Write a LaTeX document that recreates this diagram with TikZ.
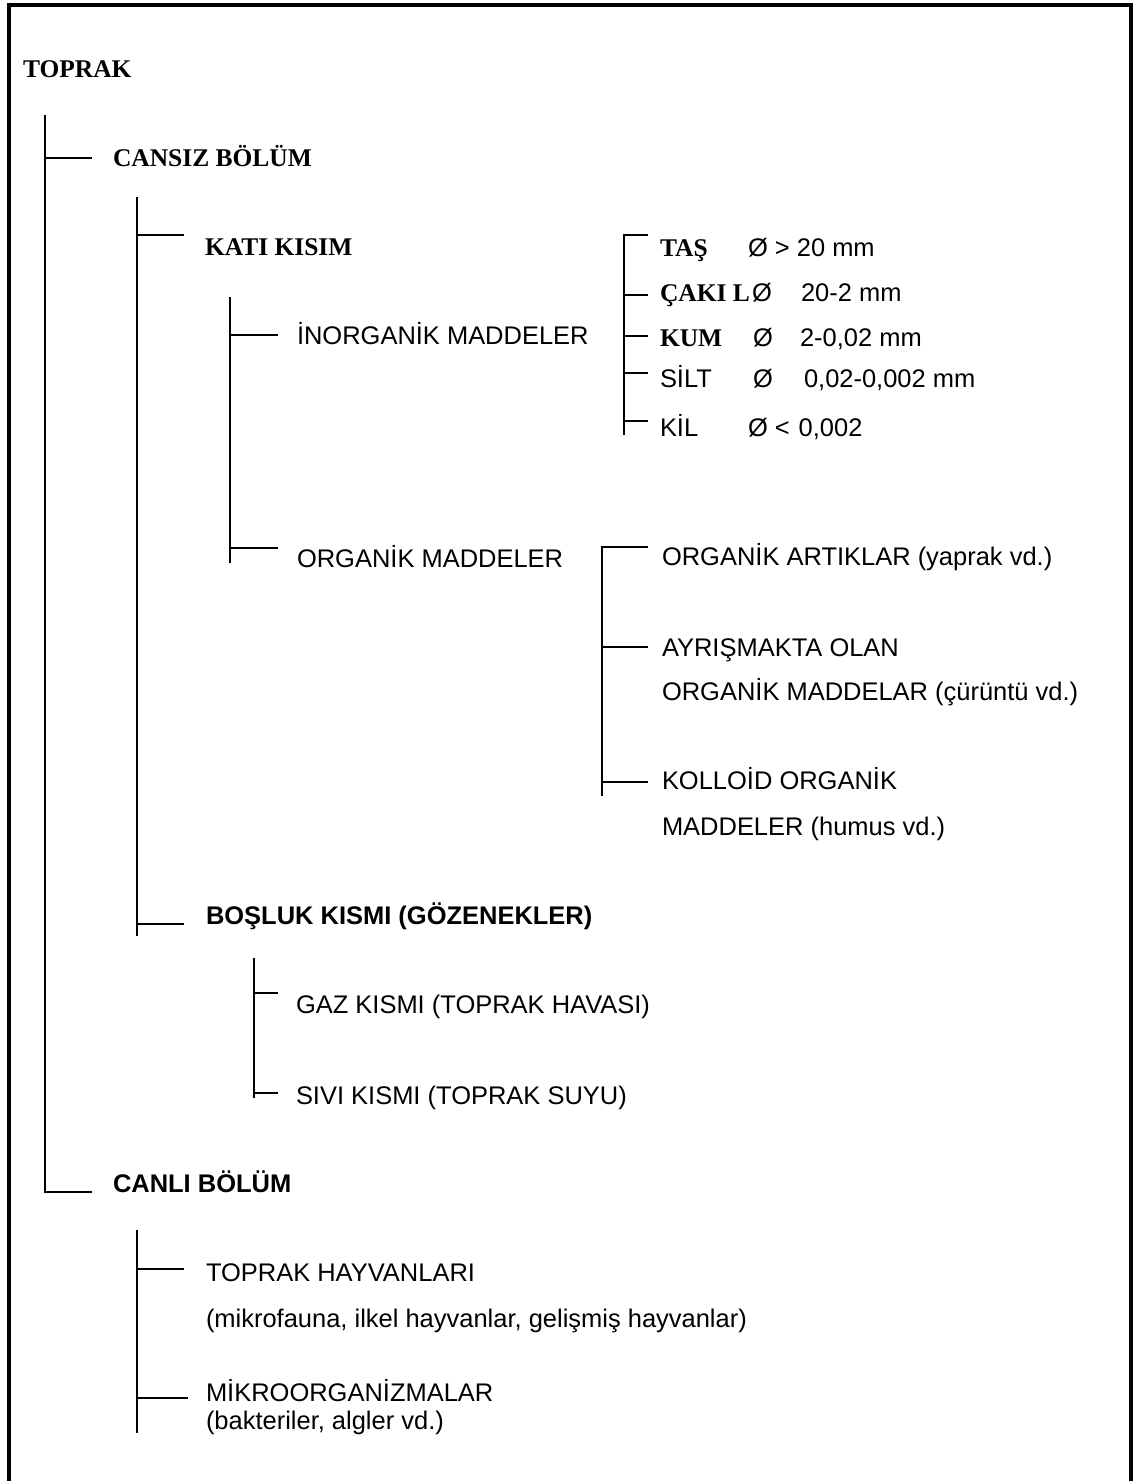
\documentclass[tikz,border=0pt]{standalone}
\usepackage{fontspec}
\setmainfont{Liberation Serif}
\newfontfamily\arialf{Liberation Sans}

\tikzset{
  lbl/.style={inner sep=0pt, outer sep=0pt, anchor=base west, font=\fontsize{14.5}{17}\selectfont},
  serb/.style={lbl, font=\fontsize{14.5}{17}\selectfont\bfseries},
  sans/.style={lbl, font=\fontsize{14.5}{17}\selectfont\arialf},
  sansb/.style={lbl, font=\fontsize{14.5}{17}\selectfont\arialf\bfseries},
  ln/.style={line width=0.85pt}
}

\begin{document}
\begin{tikzpicture}[x=0.02cm,y=-0.02cm]
\useasboundingbox (0,0) rectangle (1134,1481);
\draw[line width=2pt] (9,1481) -- (9,5) -- (1131,5) -- (1131,1481);

\node[serb] (toprak) at (23,77) {TOPRAK};
\node[serb] (cansiz) at (113,166) {CANSIZ BÖLÜM};
\node[serb] (kati) at (205,255) {KATI KISIM};
\node[sans] (inorg) at (297,344) {İNORGANİK MADDELER};
\node[sans] (org) at (297,567) {ORGANİK MADDELER};

\node[serb] (tas) at (660,256) {TAŞ};
\node[serb] (cakil) at (660,301) {ÇAKI L};
\node[serb] (kum) at (660,346) {KUM};
\node[sans] (silt) at (660,387) {SİLT};
\node[sans] (kil) at (660,436) {KİL};
\node[sans] (tasd) at (748,256) {Ø > 20 mm};
\node[sans] (cakilo) at (752,301) {Ø};
\node[sans] (cakild) at (801,301) {20-2 mm};
\node[sans] (kumo) at (753,346) {Ø};
\node[sans] (kumd) at (800,346) {2-0,02 mm};
\node[sans] (silto) at (753,387) {Ø};
\node[sans] (siltd) at (804,387) {0,02-0,002 mm};
\node[sans] (kild) at (748,436) {Ø <\hspace{0.35em}0,002};

\node[sans] (artik) at (662,565) {ORGANİK ARTIKLAR (yaprak vd.)};
\node[sans] (ayris) at (662,656) {AYRIŞMAKTA OLAN};
\node[sans] (ayris2) at (662,700) {ORGANİK MADDELAR (çürüntü vd.)};
\node[sans] (kolloid) at (662,789) {KOLLOİD ORGANİK};
\node[sans] (kolloid2) at (662,835) {MADDELER (humus vd.)};

\node[sansb] (bosluk) at (206,924) {BOŞLUK KISMI (GÖZENEKLER)};
\node[sans] (gaz) at (296,1013) {GAZ KISMI (TOPRAK HAVASI)};
\node[sans] (sivi) at (296,1104) {SIVI KISMI (TOPRAK SUYU)};

\node[sansb] (canli) at (113,1192) {CANLI BÖLÜM};
\node[sans] (hayvan) at (206,1281) {TOPRAK HAYVANLARI};
\node[sans] (hayvan2) at (206,1327) {(mikrofauna, ilkel hayvanlar, gelişmiş hayvanlar)};
\node[sans] (mikro) at (206,1401) {MİKROORGANİZMALAR};
\node[sans] (mikro2) at (206,1429) {(bakteriler, algler vd.)};

\coordinate (r1a) at (45,115);
\coordinate (r1b) at (45,1192);
\coordinate (cansizt) at (92,158);
\coordinate (canlit) at (92,1192);
\draw[ln] (r1a) -- (r1b) -- (canlit) (r1a |- cansizt) -- (cansizt);

\coordinate (r2a) at (137,197);
\coordinate (r2b) at (137,936);
\coordinate (katit) at (184,235);
\coordinate (bosluklt) at (184,924);
\draw[ln] (r2a) -- (r2b) (r2a |- katit) -- (katit) (r2a |- bosluklt) -- (bosluklt);

\coordinate (r3a) at (230,297);
\coordinate (r3b) at (230,563);
\coordinate (inorgt) at (278,335);
\coordinate (orgt) at (278,548);
\draw[ln] (r3a) -- (r3b) (r3a |- inorgt) -- (inorgt) (r3a |- orgt) -- (orgt);

\coordinate (r4a) at (624,235);
\coordinate (r4b) at (624,435);
\coordinate (tast) at (648,235);
\coordinate (cakilt) at (648,295);
\coordinate (kumt) at (648,336);
\coordinate (siltt) at (648,373);
\coordinate (kilt) at (648,421);
\draw[ln] (r4b) -- (r4a) -- (tast);
\foreach \t in {cakilt,kumt,siltt,kilt} \draw[ln] (r4a |- \t) -- (\t);

\coordinate (r5a) at (602,547);
\coordinate (r5b) at (602,796);
\coordinate (artikt) at (648,547);
\coordinate (ayrist) at (648,647);
\coordinate (kolloidt) at (648,782);
\draw[ln] (r5b) -- (r5a) -- (artikt) (r5a |- ayrist) -- (ayrist) (r5a |- kolloidt) -- (kolloidt);

\coordinate (r6a) at (254,958);
\coordinate (r6b) at (254,1098);
\coordinate (gazt) at (278,993);
\coordinate (sivit) at (278,1093);
\draw[ln] (r6a) -- (r6b) (r6a |- gazt) -- (gazt) (r6a |- sivit) -- (sivit);

\coordinate (r7a) at (137,1230);
\coordinate (r7b) at (137,1433);
\coordinate (hayvant) at (184,1269);
\coordinate (mikrot) at (188,1398);
\draw[ln] (r7a) -- (r7b) (r7a |- hayvant) -- (hayvant) (r7a |- mikrot) -- (mikrot);
\end{tikzpicture}
\end{document}
